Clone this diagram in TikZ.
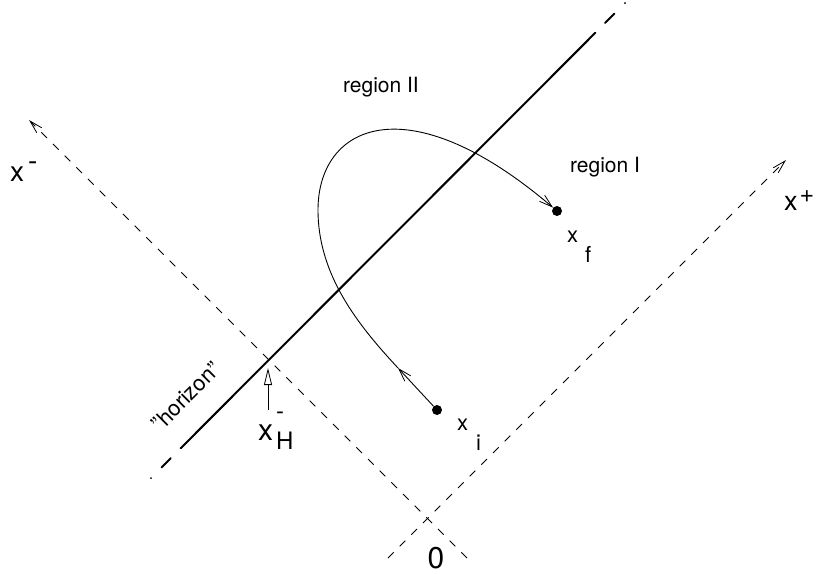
\documentclass[tikz,border=0pt]{standalone}
\usepackage{fontspec}
\setmainfont{TeX Gyre Heros}
\usetikzlibrary{arrows.meta}

\begin{document}
\begin{tikzpicture}[x=1pt, y=-1pt,
    axis/.style={line width=0.8pt, dash pattern=on 8pt off 8.5pt, -{Straight Barb[length=13pt,width=7pt,line width=0.8pt]}},
    horizon/.style={line width=2pt, line cap=round},
    path/.style={line width=0.9pt},
    pathtip/.style={path, -{Straight Barb[length=13pt,width=8pt,line width=0.8pt]}},
    event/.style={circle, fill=black, inner sep=0pt, minimum size=10pt},
    lbl/.style={font=\fontsize{21}{25}\selectfont, inner sep=0pt},
    coordlbl/.style={font=\fontsize{#1}{#1}\selectfont, inner sep=0pt, anchor=base west},
]
\useasboundingbox (0,0) rectangle (822,573);

% Light-cone axes
\coordinate (o) at (427,518);
\coordinate (xmlow) at (467,558);
\coordinate (xmtip) at (29,120);
\coordinate (xplow) at (388,558);
\coordinate (xptip) at (786,160);
\draw[axis] (xmlow) -- (xmtip);
\draw[axis] (xplow) -- (xptip);

% Horizon
\coordinate (hlow) at (151,478);
\coordinate (hhigh) at (625,3);
\draw[horizon, dash pattern=on 0pt off 15pt on 13pt off 14pt on 587pt off 14pt on 13pt off 15pt on 0pt] (hlow) -- (hhigh);

% Events and world line
\node[event] (xi) at (437,410) {};
\node[event] (xf) at (557,211) {};
\coordinate (a1) at (398,368);
\coordinate (turn) at (318,210);
\draw[pathtip] (xi) -- (a1);
\draw[pathtip] (a1) .. controls (358,325) and (318,275) .. (turn)
    .. controls (318,125) and (407,83) .. (xf);

% Horizon position on the x- axis
\coordinate (hbase) at (268,410);
\coordinate (htip) at (268,368);
\draw[line width=0.8pt, -{Triangle[open,length=17pt,width=8pt,line width=0.8pt]}] (hbase) -- (htip);

% Labels
\node[lbl, anchor=base] (r2) at (381,92) {region II};
\node[lbl, anchor=base] (r1) at (605,172) {region I};
\node[coordlbl=28] (lxm) at (10,181) {x\hspace{4pt}\raisebox{11pt}{-}};
\node[coordlbl=27] (lxp) at (784,210) {x\hspace{2pt}\raisebox{8pt}{\fontsize{25}{25}\selectfont+}};
\node[coordlbl=22] (lxf) at (567,242) {x\hspace{7pt}\raisebox{-20pt}{f}};
\node[coordlbl=22] (lxi) at (457,430) {x\hspace{8pt}\raisebox{-20pt}{i}};
\node[coordlbl=30] (lxh) at (258,440) {x\hspace{3pt}\raisebox{-9pt}{\fontsize{24}{24}\selectfont\rlap{\raisebox{30pt}{-}}H}};
\node[coordlbl=30, anchor=base] (lzero) at (436,568) {0};
\node[lbl, font=\fontsize{22}{26}\selectfont, rotate=45] (lhor) at (186,396) {"horizon"};
\end{tikzpicture}
\end{document}
